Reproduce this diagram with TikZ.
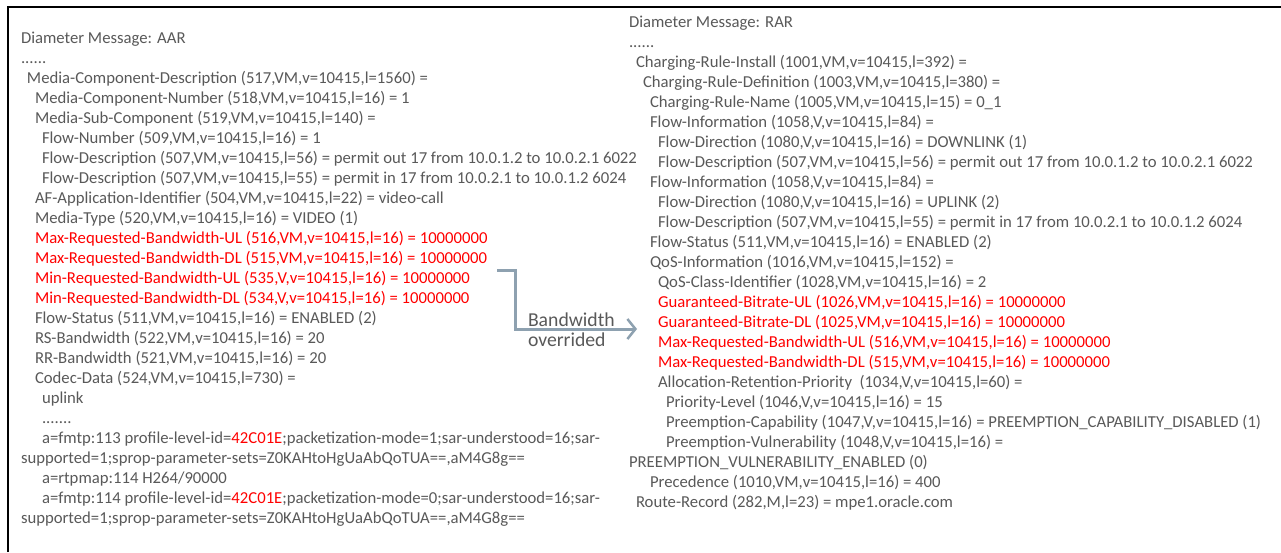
\documentclass[tikz,border=0pt]{standalone}
\usepackage{fontspec}
\setmainfont{Carlito}
\usetikzlibrary{arrows.meta}
\definecolor{txtgray}{HTML}{595959}
\definecolor{hlred}{HTML}{FF0000}
\definecolor{arrblue}{HTML}{8EA1B0}
\tikzset{
  avp/.style={inner sep=0pt, outer sep=0pt, anchor=base west, text=txtgray, font=\fontsize{16.7}{20}\selectfont},
  avpred/.style={avp, text=hlred},
  lbl/.style={inner sep=0pt, outer sep=0pt, anchor=base west, text=txtgray, font=\fontsize{19.7}{20}\selectfont},
  frame/.style={draw=black, line width=2pt},
  overarrow/.style={draw=arrblue, line width=3pt, -{Straight Barb[length=8pt,width=20pt,line width=2.5pt]}}
}
\newcommand{\hl}[1]{\textcolor{hlred}{#1}}
\begin{document}
\begin{tikzpicture}[x=1pt,y=-1pt]
\useasboundingbox (0,0) rectangle (1281,552);
\fill[white] (0,0) rectangle (1281,552);
\coordinate (fbl) at (8,552);
\coordinate (ftl) at (8,7);
\coordinate (ftr) at (1281,7);
\draw[frame] (fbl) -- (ftl) -- (ftr);

% ---------- AAR ----------
\node[avp]    (a0)  at (21,43)  {Diameter Message: AAR};
\node[avp]    (a1)  at (21,63)  {......};
\node[avp]    (a2)  at (27,83)  {Media-Component-Description (517,VM,v=10415,l=1560) =};
\node[avp]    (a3)  at (35,103) {Media-Component-Number (518,VM,v=10415,l=16) = 1};
\node[avp]    (a4)  at (35,123) {Media-Sub-Component (519,VM,v=10415,l=140) =};
\node[avp]    (a5)  at (42,143) {Flow-Number (509,VM,v=10415,l=16) = 1};
\node[avp]    (a6)  at (42,163) {Flow-Description (507,VM,v=10415,l=56) = permit out 17 from 10.0.1.2 to 10.0.2.1 6022};
\node[avp]    (a7)  at (42,183) {Flow-Description (507,VM,v=10415,l=55) = permit in 17 from 10.0.2.1 to 10.0.1.2 6024};
\node[avp]    (a8)  at (35,203) {AF-Application-Identifier (504,VM,v=10415,l=22) = video-call};
\node[avp]    (a9)  at (35,223) {Media-Type (520,VM,v=10415,l=16) = VIDEO (1)};
\node[avpred] (a10) at (35,243) {Max-Requested-Bandwidth-UL (516,VM,v=10415,l=16) = 10000000};
\node[avpred] (a11) at (35,263) {Max-Requested-Bandwidth-DL (515,VM,v=10415,l=16) = 10000000};
\node[avpred] (a12) at (35,283) {Min-Requested-Bandwidth-UL (535,V,v=10415,l=16) = 10000000};
\node[avpred] (a13) at (35,303) {Min-Requested-Bandwidth-DL (534,V,v=10415,l=16) = 10000000};
\node[avp]    (a14) at (35,323) {Flow-Status (511,VM,v=10415,l=16) = ENABLED (2)};
\node[avp]    (a15) at (35,343) {RS-Bandwidth (522,VM,v=10415,l=16) = 20};
\node[avp]    (a16) at (35,363) {RR-Bandwidth (521,VM,v=10415,l=16) = 20};
\node[avp]    (a17) at (35,383) {Codec-Data (524,VM,v=10415,l=730) =};
\node[avp]    (a18) at (42,403) {uplink};
\node[avp]    (a19) at (42,423) {.......};
\node[avp]    (a20) at (42,443) {a=fmtp:113 profile-level-id=\hl{42C01E};packetization-mode=1;sar-understood=16;sar-};
\node[avp]    (a21) at (21,463) {supported=1;sprop-parameter-sets=Z0KAHtoHgUaAbQoTUA==,aM4G8g==};
\node[avp]    (a22) at (42,483) {a=rtpmap:114 H264/90000};
\node[avp]    (a23) at (42,503) {a=fmtp:114 profile-level-id=\hl{42C01E};packetization-mode=0;sar-understood=16;sar-};
\node[avp]    (a24) at (21,523) {supported=1;sprop-parameter-sets=Z0KAHtoHgUaAbQoTUA==,aM4G8g==};

% ---------- RAR ----------
\node[avp]    (r0)  at (629,27)  {Diameter Message: RAR};
\node[avp]    (r1)  at (629,47)  {......};
\node[avp]    (r2)  at (636,67)  {Charging-Rule-Install (1001,VM,v=10415,l=392) =};
\node[avp]    (r3)  at (643,87)  {Charging-Rule-Definition (1003,VM,v=10415,l=380) =};
\node[avp]    (r4)  at (650,107) {Charging-Rule-Name (1005,VM,v=10415,l=15) = 0\_1};
\node[avp]    (r5)  at (650,127) {Flow-Information (1058,V,v=10415,l=84) =};
\node[avp]    (r6)  at (658,147) {Flow-Direction (1080,V,v=10415,l=16) = DOWNLINK (1)};
\node[avp]    (r7)  at (658,167) {Flow-Description (507,VM,v=10415,l=56) = permit out 17 from 10.0.1.2 to 10.0.2.1 6022};
\node[avp]    (r8)  at (650,187) {Flow-Information (1058,V,v=10415,l=84) =};
\node[avp]    (r9)  at (658,207) {Flow-Direction (1080,V,v=10415,l=16) = UPLINK (2)};
\node[avp]    (r10) at (658,227) {Flow-Description (507,VM,v=10415,l=55) = permit in 17 from 10.0.2.1 to 10.0.1.2 6024};
\node[avp]    (r11) at (650,247) {Flow-Status (511,VM,v=10415,l=16) = ENABLED (2)};
\node[avp]    (r12) at (650,267) {QoS-Information (1016,VM,v=10415,l=152) =};
\node[avp]    (r13) at (658,287) {QoS-Class-Identifier (1028,VM,v=10415,l=16) = 2};
\node[avpred] (r14) at (658,307) {Guaranteed-Bitrate-UL (1026,VM,v=10415,l=16) = 10000000};
\node[avpred] (r15) at (658,327) {Guaranteed-Bitrate-DL (1025,VM,v=10415,l=16) = 10000000};
\node[avpred] (r16) at (658,347) {Max-Requested-Bandwidth-UL (516,VM,v=10415,l=16) = 10000000};
\node[avpred] (r17) at (658,367) {Max-Requested-Bandwidth-DL (515,VM,v=10415,l=16) = 10000000};
\node[avp]    (r18) at (658,387) {Allocation-Retention-Priority\ \ (1034,V,v=10415,l=60) =};
\node[avp]    (r19) at (666,407) {Priority-Level (1046,V,v=10415,l=16) = 15};
\node[avp]    (r20) at (666,427) {Preemption-Capability (1047,V,v=10415,l=16) = PREEMPTION\_CAPABILITY\_DISABLED (1)};
\node[avp]    (r21) at (666,447) {Preemption-Vulnerability (1048,V,v=10415,l=16) =};
\node[avp]    (r22) at (629,467) {PREEMPTION\_VULNERABILITY\_ENABLED (0)};
\node[avp]    (r23) at (650,487) {Precedence (1010,VM,v=10415,l=16) = 400};
\node[avp]    (r24) at (636,507) {Route-Record (282,M,l=23) = mpe1.oracle.com};

% ---------- arrow ----------
\coordinate (src) at (497,270);
\coordinate (dst) at (637,329);
\draw[overarrow] (src) -| (515,329) -- (dst);
\node[lbl] (lb1) at (528,326) {Bandwidth};
\node[lbl] (lb2) at (528,346) {overrided};
\end{tikzpicture}
\end{document}
